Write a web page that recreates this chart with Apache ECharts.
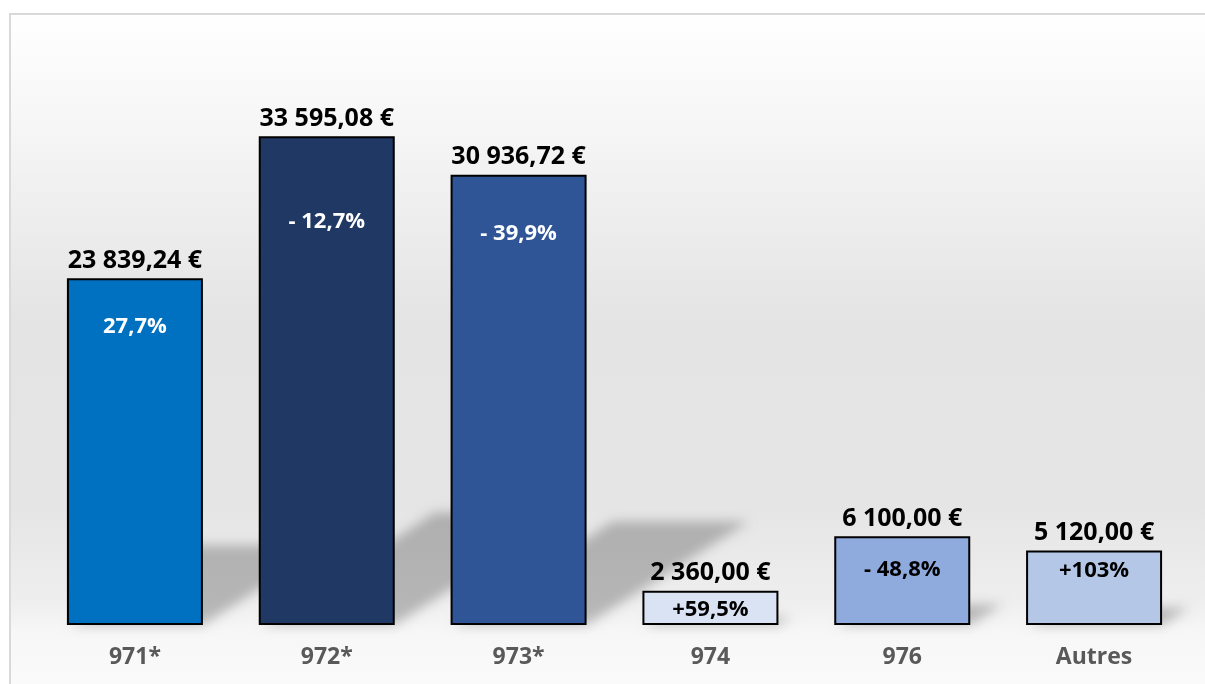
<!DOCTYPE html>
<html>
<head>
<meta charset="utf-8">
<script src="https://cdn.jsdelivr.net/npm/echarts@6/dist/echarts.min.js"></script>
<style>
  html, body { margin: 0; padding: 0; background: #fff; }
  #chart { width: 1205px; height: 684px; }
</style>
</head>
<body>
<div id="chart"></div>
<script>
// data
const categories = ['971*', '972*', '973*', '974', '976', 'Autres'];
const amounts = [23839.24, 33595.08, 30936.72, 2360.00, 6100.00, 5120.00];
const changes = ['27,7%', '- 12,7%', '- 39,9%', '+59,5%', '- 48,8%', '+103%'];

// styling per bar
const barColors = ['#0070c0', '#1f3864', '#2f5597', '#dae3f3', '#8faadc', '#b4c7e7'];
const changeColors = ['#ffffff', '#ffffff', '#ffffff', '#000000', '#000000', '#000000'];
const changeDist = [36, 73, 46, 6, 20, 7];

const FONT = '"Open Sans", sans-serif';
const HALF_BAR = 68;
const SHIFT = 3000; // shadow shape drawn off-canvas, only its blurred shadow is seen

function euro(v) {
  const parts = v.toFixed(2).split('.');
  const intPart = parts[0].replace(/\B(?=(\d{3})+(?!\d))/g, ' ');
  return intPart + ',' + parts[1] + ' €';
}

const chart = echarts.init(document.getElementById('chart'));

chart.setOption({
  animation: false,
  backgroundColor: '#ffffff',
  graphic: [{
    type: 'rect',
    z: -10,
    silent: true,
    shape: { x: 10, y: 14, width: 1205, height: 680 },
    style: {
      stroke: '#d9d9d9',
      lineWidth: 2,
      fill: new echarts.graphic.LinearGradient(0, 0, 0, 1, [
        { offset: 0, color: '#ffffff' },
        { offset: 0.15, color: '#f7f7f7' },
        { offset: 0.45, color: '#e4e4e4' },
        { offset: 0.72, color: '#e5e5e5' },
        { offset: 0.86, color: '#eeeeee' },
        { offset: 0.91, color: '#f7f7f7' },
        { offset: 1, color: '#fbfbfb' }
      ])
    }
  }],
  grid: { left: 39, right: 15, top: 43, bottom: 59 },
  xAxis: {
    type: 'category',
    data: categories,
    axisLine: { show: false },
    axisTick: { show: false },
    axisLabel: {
      margin: 21,
      color: '#595959',
      fontFamily: FONT,
      fontWeight: 'bold',
      fontSize: 23
    }
  },
  yAxis: {
    type: 'value',
    min: 0,
    max: 40000,
    show: false,
    splitLine: { show: false }
  },
  series: [
    {
      // floor shadows cast behind the bars
      type: 'custom',
      z: 1,
      silent: true,
      clip: false,
      data: amounts.map((v, i) => [i, v]),
      encode: { x: 0, y: 1 },
      renderItem: function (params, api) {
        const base = api.coord([api.value(0), 0]);
        const top = api.coord([api.value(0), api.value(1)]);
        const h = base[1] - top[1];
        const dx = h * 0.36, dy = h * 0.23;
        const x0 = base[0] - HALF_BAR - SHIFT, x1 = base[0] + HALF_BAR - SHIFT, y = base[1];
        return {
          type: 'polygon',
          shape: { points: [[x0 + 4, y], [x1, y], [x1 + dx, y - dy], [x0 + dx, y - dy]] },
          style: {
            fill: '#000000',
            shadowBlur: 12,
            shadowOffsetX: SHIFT,
            shadowColor: 'rgba(0,0,0,0.24)'
          }
        };
      }
    },
    {
      type: 'bar',
      z: 2,
      barWidth: 2 * HALF_BAR,
      data: amounts.map((v, i) => ({
        value: v,
        itemStyle: { color: barColors[i] }
      })),
      itemStyle: { borderColor: '#000000', borderWidth: 2 },
      label: {
        show: true,
        position: 'top',
        distance: 5,
        color: '#000000',
        fontFamily: FONT,
        fontWeight: 'bold',
        fontSize: 25,
        formatter: p => euro(p.value)
      }
    },
    {
      // percentage change written inside each bar
      type: 'bar',
      z: 3,
      barWidth: 2 * HALF_BAR,
      barGap: '-100%',
      silent: true,
      itemStyle: { color: 'transparent' },
      data: amounts.map((v, i) => ({
        value: v,
        label: { distance: changeDist[i], color: changeColors[i] }
      })),
      label: {
        show: true,
        position: 'insideTop',
        fontFamily: FONT,
        fontWeight: 'bold',
        fontSize: 22,
        lineHeight: 26,
        formatter: p => changes[p.dataIndex]
      }
    }
  ]
});
</script>
</body>
</html>
